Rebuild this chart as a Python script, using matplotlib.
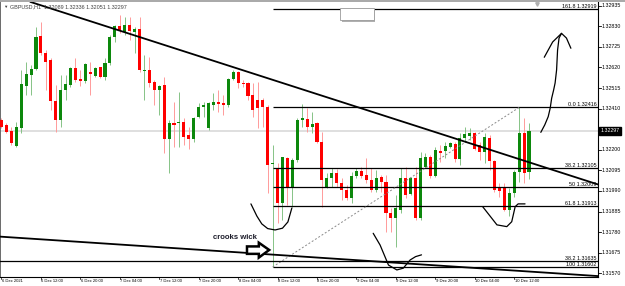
import matplotlib.pyplot as plt
from matplotlib.patches import Polygon, Rectangle
from matplotlib.transforms import blended_transform_factory

plt.rcParams['font.family'] = ['Liberation Sans', 'DejaVu Sans']

# GBPUSD H1 candles, 6 Dec 04:00 .. 10 Dec 15:00
opens = [1.32352, 1.32327, 1.32297, 1.32221, 1.32310, 1.32527, 1.32582, 1.32614, 1.32780, 1.32692,
         1.32658, 1.32449, 1.32352, 1.32505, 1.32531, 1.32616, 1.32560, 1.32551, 1.32597, 1.32578,
         1.32621, 1.32573, 1.32644, 1.32777, 1.32833, 1.32802, 1.32837, 1.32802, 1.32816, 1.32603,
         1.32607, 1.32546, 1.32505, 1.32531, 1.32254, 1.32335, 1.32335, 1.32343, 1.32276, 1.32254,
         1.32369, 1.32417, 1.32310, 1.32429, 1.32445, 1.32437, 1.32429, 1.32560, 1.32598, 1.32542,
         1.32539, 1.32480, 1.32454, 1.32454, 1.32420, 1.32126, 1.32106, 1.31927, 1.32157, 1.32012,
         1.32148, 1.32352, 1.32357, 1.32318, 1.32335, 1.32241, 1.32012, 1.32055, 1.32080, 1.32032,
         1.31995, 1.31953, 1.32068, 1.32092, 1.32072, 1.32046, 1.31995, 1.32063, 1.32037, 1.31876,
         1.31851, 1.31893, 1.32055, 1.31973, 1.32055, 1.31851, 1.32114, 1.32165, 1.32068, 1.32194,
         1.32194, 1.32216, 1.32228, 1.32152, 1.32262, 1.32272, 1.32284, 1.32225, 1.32190, 1.32262,
         1.32143, 1.32004, 1.32004, 1.31893, 1.31978, 1.32088, 1.32284, 1.32089]
highs = [1.32362, 1.32335, 1.32318, 1.32343, 1.32607, 1.32649, 1.32633, 1.32828, 1.32853, 1.32709,
         1.32667, 1.32531, 1.32582, 1.32582, 1.32624, 1.32667, 1.32607, 1.32641, 1.32649, 1.32624,
         1.32624, 1.32667, 1.32786, 1.32837, 1.32888, 1.32879, 1.32879, 1.32828, 1.32879, 1.32684,
         1.32675, 1.32556, 1.32531, 1.32573, 1.32352, 1.32445, 1.32496, 1.32361, 1.32318, 1.32369,
         1.32437, 1.32445, 1.32445, 1.32488, 1.32505, 1.32480, 1.32565, 1.32607, 1.32603, 1.32556,
         1.32547, 1.32539, 1.32547, 1.32463, 1.32429, 1.32225, 1.32131, 1.32165, 1.32165, 1.32157,
         1.32361, 1.32434, 1.32412, 1.32394, 1.32343, 1.32292, 1.32080, 1.32106, 1.32101, 1.32055,
         1.32021, 1.32088, 1.32106, 1.32114, 1.32157, 1.32106, 1.32097, 1.32072, 1.32072, 1.31902,
         1.31970, 1.32106, 1.32114, 1.32063, 1.32114, 1.32190, 1.32182, 1.32174, 1.32216, 1.32225,
         1.32241, 1.32241, 1.32241, 1.32284, 1.32318, 1.32310, 1.32292, 1.32241, 1.32284, 1.32276,
         1.32148, 1.32029, 1.32029, 1.32004, 1.32097, 1.32416, 1.32361, 1.32336]
lows = [1.32311, 1.32287, 1.32225, 1.32216, 1.32287, 1.32480, 1.32480, 1.32607, 1.32684, 1.32505,
        1.32403, 1.32292, 1.32318, 1.32454, 1.32522, 1.32547, 1.32525, 1.32539, 1.32480, 1.32573,
        1.32565, 1.32556, 1.32633, 1.32751, 1.32794, 1.32786, 1.32760, 1.32692, 1.32598, 1.32454,
        1.32522, 1.32429, 1.32378, 1.32182, 1.32080, 1.32216, 1.32216, 1.32225, 1.32203, 1.32241,
        1.32361, 1.32369, 1.32301, 1.32403, 1.32394, 1.32378, 1.32420, 1.32556, 1.32514, 1.32522,
        1.32454, 1.32369, 1.32310, 1.32318, 1.31978, 1.31602, 1.31825, 1.31842, 1.31918, 1.31910,
        1.32139, 1.32318, 1.32292, 1.32284, 1.32233, 1.31910, 1.32004, 1.32012, 1.32012, 1.31944,
        1.31944, 1.31927, 1.32055, 1.32055, 1.32029, 1.31986, 1.31986, 1.31986, 1.31782, 1.31782,
        1.31704, 1.31876, 1.31953, 1.31970, 1.31842, 1.31842, 1.32106, 1.32058, 1.32063, 1.32139,
        1.32157, 1.32208, 1.32139, 1.32123, 1.32241, 1.32250, 1.32199, 1.32148, 1.32131, 1.32097,
        1.31986, 1.31961, 1.31888, 1.31862, 1.31961, 1.32037, 1.32029, 1.32051]
closes = [1.32318, 1.32292, 1.32236, 1.32315, 1.32536, 1.32585, 1.32614, 1.32777, 1.32692, 1.32649,
          1.32449, 1.32352, 1.32505, 1.32536, 1.32616, 1.32556, 1.32552, 1.32636, 1.32585, 1.32616,
          1.32573, 1.32644, 1.32777, 1.32833, 1.32811, 1.32837, 1.32807, 1.32816, 1.32607, 1.32607,
          1.32542, 1.32505, 1.32525, 1.32254, 1.32335, 1.32328, 1.32342, 1.32264, 1.32254, 1.32361,
          1.32420, 1.32429, 1.32437, 1.32445, 1.32434, 1.32429, 1.32560, 1.32598, 1.32539, 1.32534,
          1.32474, 1.32403, 1.32412, 1.32420, 1.32123, 1.32131, 1.31927, 1.32162, 1.32012, 1.32148,
          1.32352, 1.32364, 1.32318, 1.32332, 1.32241, 1.32046, 1.32055, 1.32080, 1.32032, 1.31995,
          1.31953, 1.32066, 1.32092, 1.32068, 1.32046, 1.31995, 1.32058, 1.32037, 1.31876, 1.31851,
          1.31902, 1.32055, 1.31970, 1.32055, 1.31851, 1.32160, 1.32165, 1.32068, 1.32199, 1.32182,
          1.32219, 1.32233, 1.32152, 1.32262, 1.32279, 1.32284, 1.32204, 1.32190, 1.32267, 1.32143,
          1.31995, 1.31990, 1.31893, 1.31978, 1.32088, 1.32284, 1.32080, 1.32297]

date_labels = ['6 Dec 2021', '6 Dec 12:00', '6 Dec 20:00', '7 Dec 04:00', '7 Dec 12:00',
               '7 Dec 20:00', '8 Dec 04:00', '8 Dec 12:00', '8 Dec 20:00', '9 Dec 04:00',
               '9 Dec 12:00', '9 Dec 20:00', '10 Dec 04:00', '10 Dec 12:00']
date_index = [0, 8, 16, 24, 32, 40, 48, 56, 64, 72, 80, 88, 96, 104]
price_ticks = [1.32935, 1.32830, 1.32725, 1.32620, 1.32515, 1.32410, 1.32200,
               1.32095, 1.31990, 1.31885, 1.31780, 1.31675, 1.31570]

# fibonacci from the 8 Dec 11:00 low to the 10 Dec 13:00 high
fib_levels = ['0.0', '38.2', '50', '61.8', '100', '161.8']
fib_prices = [1.32416, 1.32105, 1.32009, 1.31913, 1.31602, 1.32919]
fib_low_idx, fib_high_idx = 55, 105
other_fib = ('38.2', 1.31635)

# hand drawn marks (bar index, price)
trend_upper = [(10, 1.32921), (100, 1.32193)]
trend_lower = [(-0.3, 1.31757), (120.8, 1.31556)]
curve_a = [(50.6, 1.31924), (51.8, 1.31862), (52.8, 1.31822), (54.0, 1.31798), (55.5, 1.31791),
           (57.0, 1.31800), (58.1, 1.31832), (58.9, 1.31903)]
curve_b = [(75.4, 1.31774), (76.8, 1.31714), (78.5, 1.31612), (80.2, 1.31587), (81.5, 1.31596),
           (82.9, 1.31638), (84.0, 1.31655), (85.2, 1.31664)]
curve_c = [(97.6, 1.31910), (99.1, 1.31862), (100.5, 1.31817), (102.5, 1.31808), (103.5, 1.31833),
           (104.2, 1.31910), (104.8, 1.31924), (106.2, 1.31924)]
arrow_shaft = [(109.4, 1.32289), (110.2, 1.32327), (110.9, 1.32369), (111.3, 1.32412),
               (111.6, 1.32463), (112.0, 1.32505), (112.3, 1.32541), (112.6, 1.32607),
               (112.8, 1.32709), (113.1, 1.32770), (113.6, 1.32794)]
arrow_head = [(110.1, 1.32672), (111.8, 1.32750), (113.6, 1.32794), (114.6, 1.32770), (115.5, 1.32718)]

W, H = 625, 286
fig = plt.figure(figsize=(W / 100, H / 100), dpi=100)
ax = fig.add_axes([0, (H - 277) / H, 598 / W, 275 / H])
ax.set_xlim(-0.3, 121.0)
ax.set_ylim(1.31551, 1.32954)
ax.set_xticks([])
ax.set_yticks([])
for s in ['top']:
    ax.spines[s].set_visible(False)
ax.spines['left'].set_color('#6a6a6a')
ax.spines['left'].set_linewidth(1.4)
ax.spines['right'].set_color('black')
ax.spines['right'].set_linewidth(0.8)
ax.spines['bottom'].set_color('black')
ax.spines['bottom'].set_linewidth(0.8)

# bid line
ax.axhline(closes[-1], color='#d9d9d9', lw=1.2, zorder=1)

# candles
for i in range(len(opens)):
    o, h, l, c = opens[i], highs[i], lows[i], closes[i]
    up = c >= o
    ax.vlines(i, l, h, color='#86c386' if up else '#ff9a9a', lw=0.7, zorder=2)
    ax.bar(i, max(abs(c - o), 0.00003), bottom=min(o, c), width=0.62,
           color='#0c880c' if up else '#ff0000', lw=0, zorder=3)

# fibonacci object
for lev, p in zip(fib_levels, fib_prices):
    ax.hlines(p, fib_low_idx, 121.0, color='black', lw=0.9, zorder=4)
    ax.text(0.998, p, f'{lev} {p:.5f}', transform=blended_transform_factory(ax.transAxes, ax.transData),
            ha='right', va='bottom', fontsize=3.9, color='black', zorder=6)
ax.plot([fib_low_idx, fib_high_idx], [fib_prices[4], fib_prices[0]], color='#8a8a8a',
        lw=0.7, ls=(0, (2, 2)), zorder=4)
ax.axhline(other_fib[1], color='black', lw=0.9, zorder=4)
ax.text(0.998, other_fib[1], f'{other_fib[0]} {other_fib[1]:.5f}',
        transform=blended_transform_factory(ax.transAxes, ax.transData),
        ha='right', va='bottom', fontsize=3.9, color='black', zorder=6)

# trend lines
ax.axline(trend_upper[0], trend_upper[1], color='black', lw=1.3, zorder=5)
ax.axline(trend_lower[0], trend_lower[1], color='black', lw=1.3, zorder=5)

# hand drawings
for pts in [curve_a, curve_b, curve_c, arrow_shaft, arrow_head]:
    xs, ys = zip(*pts)
    ax.plot(xs, ys, color='black', lw=0.9, solid_capstyle='round', solid_joinstyle='round', zorder=6)

ax.add_patch(Polygon([(49.8, 1.31707), (52.2, 1.31707), (52.2, 1.31726), (54.3, 1.31689),
                      (52.2, 1.31650), (52.2, 1.31669), (49.8, 1.31669)],
                     closed=True, facecolor='white', edgecolor='black', lw=1.8, joinstyle='miter', zorder=7))
ax.text(42.9, 1.31752, 'crooks wick', fontsize=5.6, fontweight='bold', color='#1c1c2a',
        ha='left', va='center', zorder=7)

# small object box near the top
ax.add_patch(Rectangle((69.0, 1.32853), 6.8, 0.00063, facecolor='#b0b0b0', lw=0, zorder=6))
ax.add_patch(Rectangle((68.7, 1.32860), 6.8, 0.00063, facecolor='white', edgecolor='#9a9a9a', lw=0.6, zorder=7))

# price axis
yt = blended_transform_factory(ax.transAxes, ax.transData)
for p in price_ticks:
    ax.plot([1.0, 1.005], [p, p], transform=yt, color='black', lw=0.6, clip_on=False)
    ax.text(1.0067, p, f'{p:.5f}', transform=yt, ha='left', va='center', fontsize=3.8, color='black')
ax.text(1.0045, closes[-1], f'{closes[-1]:.5f}', transform=yt, ha='left', va='center', fontsize=3.8,
        color='white', bbox=dict(boxstyle='square,pad=0.25', facecolor='black', edgecolor='black'), zorder=8)
ax.plot([0.898], [0.992], marker='v', ms=2.5, color='#b0b0b0', transform=ax.transAxes, clip_on=False)

# time axis
xt = blended_transform_factory(ax.transData, ax.transAxes)
for j, lab in zip(date_index, date_labels):
    ax.plot([j, j], [0, -0.008], transform=xt, color='black', lw=0.5, clip_on=False)
    ax.text(j + 0.1, -0.016, lab, transform=xt, ha='left', va='center', fontsize=3.0, color='black')

# header
fig.add_artist(plt.Line2D([0, 1], [1 - 0.8 / H, 1 - 0.8 / H], color='#a8a8a8', lw=1.4))
fig.text(3 / W, 1 - 7 / H, '▼', fontsize=3.2, color='#404040', va='center')
fig.text(10 / W, 1 - 7 / H, 'GBPUSD,H1  1.32089 1.32336 1.32051 1.32297', fontsize=3.9,
         color='#404040', va='center')

fig.savefig('out.png', dpi=100)
